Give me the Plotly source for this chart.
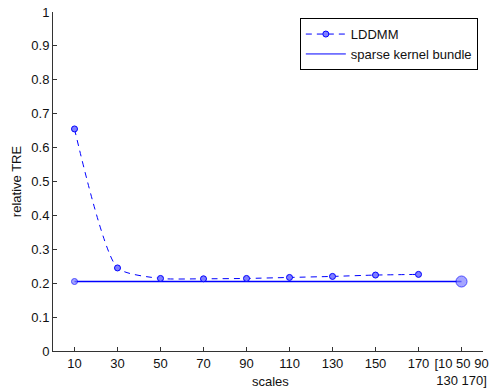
import plotly.graph_objects as go

scales = [10, 30, 50, 70, 90, 110, 130, 150, 170]
lddmm_tre = [0.655, 0.245, 0.214, 0.213, 0.214, 0.217, 0.220, 0.224, 0.226]
bundle_x = [10, 190]
bundle_tre = [0.205, 0.205]
tick_vals = [10, 30, 50, 70, 90, 110, 130, 150, 170, 190]
tick_text = ["10", "30", "50", "70", "90", "110", "130", "150", "170", "[10 50 90<br>130 170]"]
y_ticks = [0, 0.1, 0.2, 0.3, 0.4, 0.5, 0.6, 0.7, 0.8, 0.9, 1]
y_text = ["0", "0.1", "0.2", "0.3", "0.4", "0.5", "0.6", "0.7", "0.8", "0.9", "1"]

blue = "#0000ff"
fill = "#7f7fff"
font = "Liberation Sans, Arial, sans-serif"

fig = go.Figure()
fig.add_trace(go.Scatter(
    x=bundle_x, y=bundle_tre, name="sparse kernel bundle", mode="lines",
    line=dict(color=blue, width=1.3), showlegend=False,
))
fig.add_trace(go.Scatter(
    x=scales, y=lddmm_tre, name="LDDMM", mode="lines+markers",
    line=dict(color=blue, width=1, dash="6px,5px", shape="spline", smoothing=0.6),
    marker=dict(size=6, color=fill, line=dict(color=blue, width=1)),
))
fig.add_trace(go.Scatter(
    x=[None], y=[None], name="sparse kernel bundle", mode="lines",
    line=dict(color=blue, width=1),
))
fig.add_trace(go.Scatter(
    x=bundle_x, y=bundle_tre, mode="markers", showlegend=False,
    marker=dict(size=[6, 11], color=fill, line=dict(color=blue, width=1)),
))

fig.add_annotation(
    text="scales", xref="paper", yref="paper", x=0.505, y=0,
    yshift=-30, xanchor="center", yanchor="middle", showarrow=False,
    font=dict(size=13, color="#111"),
)

fig.update_layout(
    width=491, height=390,
    margin=dict(l=53, r=8, t=12, b=39, autoexpand=False),
    paper_bgcolor="white", plot_bgcolor="white",
    font=dict(family=font, size=13, color="#111"),
    showlegend=True,
    legend=dict(
        x=0.988, y=0.982, xanchor="right", yanchor="top",
        bgcolor="white", bordercolor="black", borderwidth=1,
        font=dict(size=13, color="#111"),
        tracegroupgap=0, itemwidth=40, traceorder="normal",
    ),
    xaxis=dict(
        range=[0, 200], tickvals=tick_vals, ticktext=tick_text,
        ticks="inside", ticklen=4, tickcolor="#333",
        showline=True, linecolor="#333", linewidth=1,
        showgrid=False, zeroline=False, automargin=False,
    ),
    yaxis=dict(
        range=[0, 1], tickvals=y_ticks, ticktext=y_text,
        ticks="inside", ticklen=4, tickcolor="#333",
        showline=True, linecolor="#333", linewidth=1,
        showgrid=False, zeroline=False, automargin=False,
        title=dict(text="relative TRE", standoff=6, font=dict(size=13)),
    ),
)

fig.write_html("out.html")
